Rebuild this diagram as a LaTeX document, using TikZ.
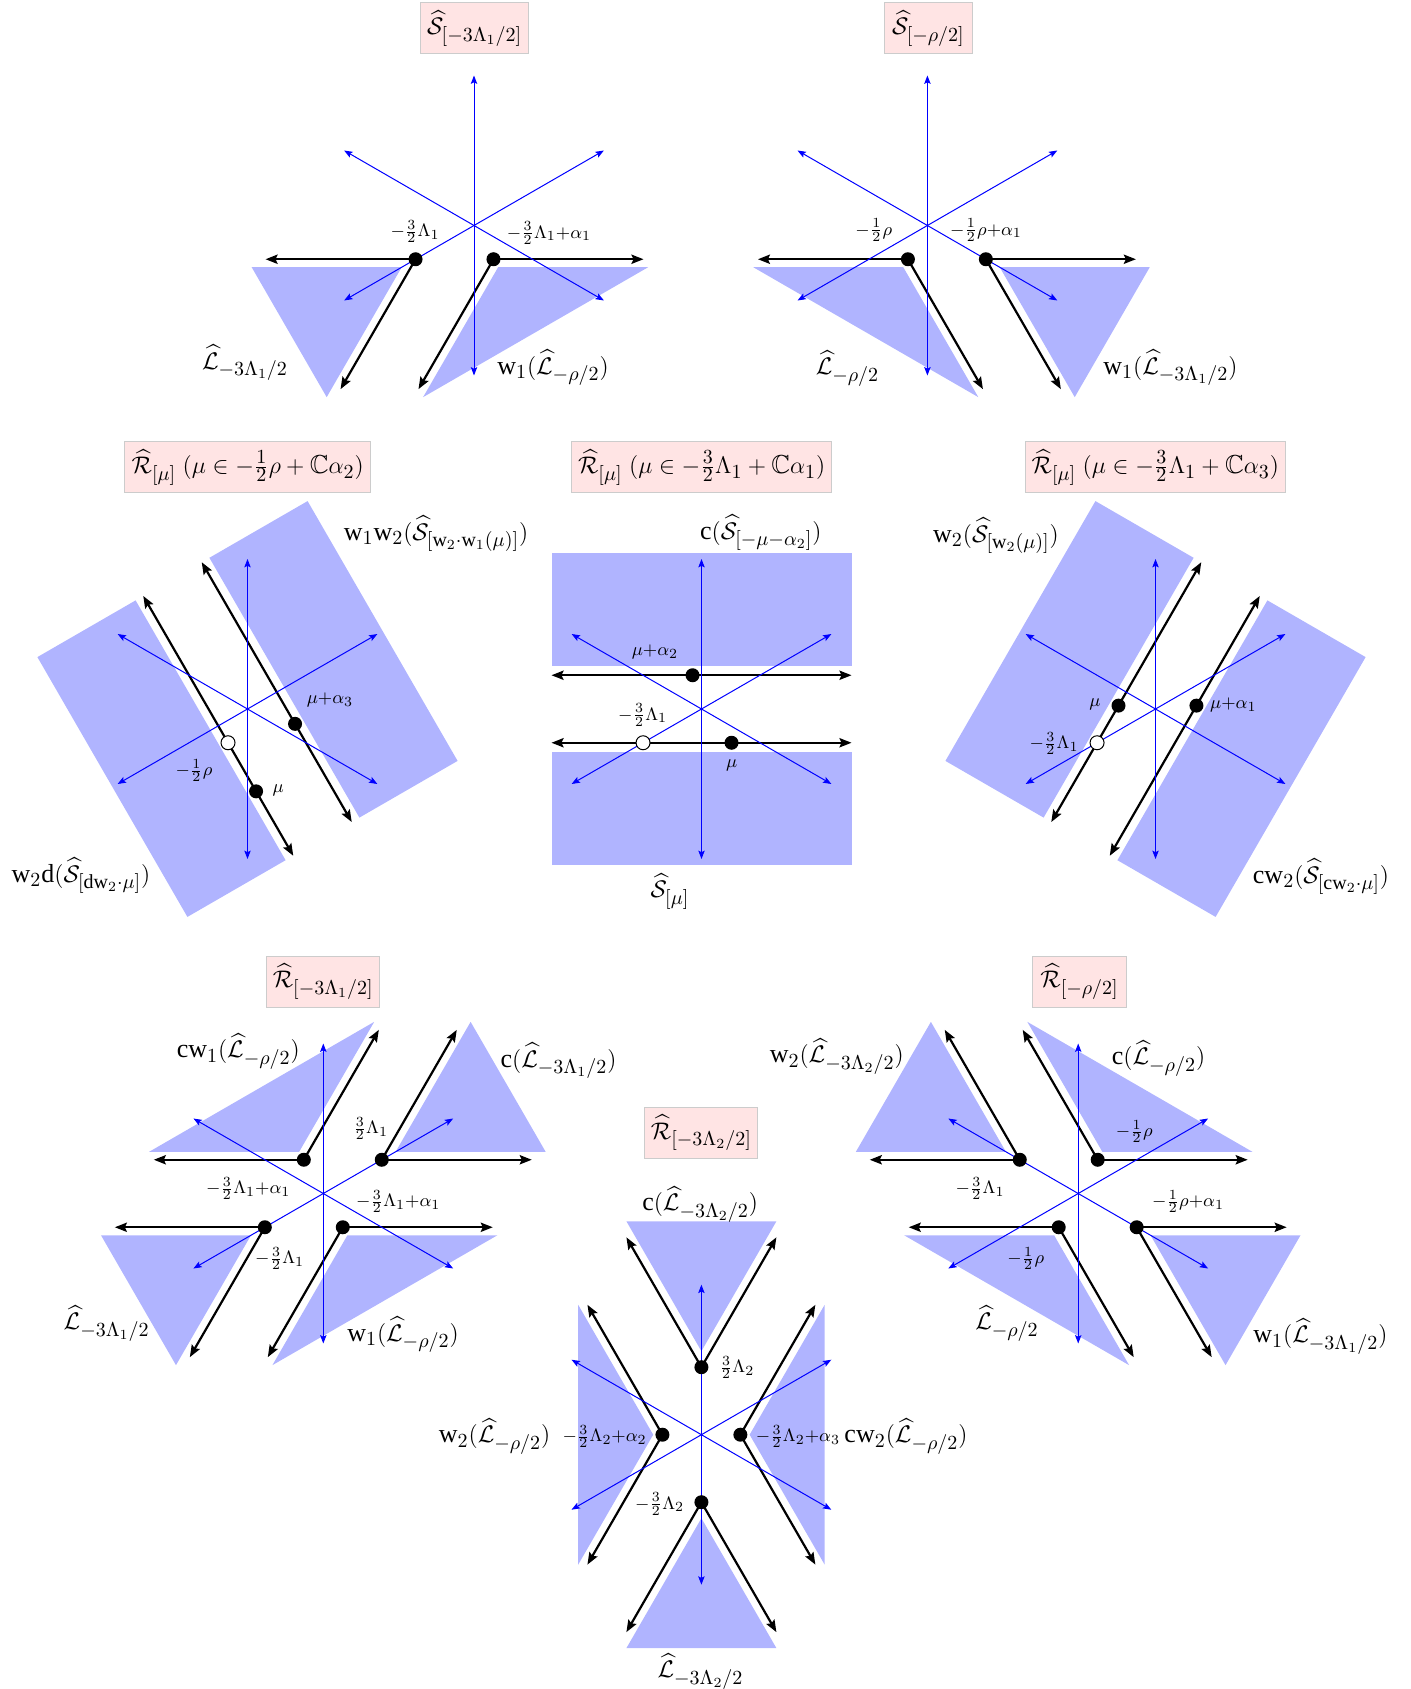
\documentclass[tikz,border=0pt]{standalone}
\usepackage{amsmath,amssymb}
\usepackage{fontspec}
\setmainfont{Liberation Serif}
\DeclareMathSizes{13}{13}{10}{7.5}
\DeclareMathSizes{9}{9}{7}{5}
\usetikzlibrary{arrows.meta,calc}
\definecolor{regc}{RGB}{176,180,255}
\definecolor{boxc}{RGB}{255,228,228}
\definecolor{boxb}{RGB}{204,204,204}
\tikzset{
 reg/.style={fill=regc},
 blk/.style={line width=1.1pt,-{Stealth[length=6pt,width=4.6pt,inset=1pt]}},
 blkb/.style={line width=1.1pt,{Stealth[length=6pt,width=4.6pt,inset=1pt]}-{Stealth[length=6pt,width=4.6pt,inset=1pt]}},
 ax/.style={blue,line width=0.5pt,{Stealth[length=4.2pt,width=3.2pt,inset=0.8pt]}-{Stealth[length=4.2pt,width=3.2pt,inset=0.8pt]}},
 lbl/.style={font=\fontsize{13}{15}\selectfont, inner sep=0pt},
 sm/.style={font=\fontsize{9}{11}\selectfont, inner sep=0pt},
 ttl/.style={font=\fontsize{13}{15}\selectfont, fill=boxc, draw=boxb, line width=0.5pt, minimum height=25.5pt, inner xsep=3pt, inner ysep=0pt},
}
\newcommand\ptri[4]{%
 \pgfmathsetmacro\tbis{(#3+#4)/2}%
 \pgfmathsetmacro\tsh{8/sin((#4-#3)/2)}%
 \fill[reg] ($(#1,#2)+(\tbis:\tsh)$) coordinate (apx) -- ++(#3:150) -- ($(apx)+(#4:150)$) -- cycle;}
\newcommand\parr[3]{\draw[blk] (#1,#2) -- ++(#3:150);}
\newcommand\pdot[2]{\fill (#1,#2) circle[radius=7];}
\newcommand\podot[2]{\filldraw[fill=white,draw=black,line width=0.5pt] (#1,#2) circle[radius=7];}
\newcommand\paxes{\draw[ax] (90:150) -- (270:150); \draw[ax] (30:150) -- (210:150); \draw[ax] (150:150) -- (330:150);}
\newcommand\prect[1]{%
 \begin{scope}[rotate=#1]
 \fill[reg] (-150,42.6) rectangle (150,156);
 \fill[reg] (-150,-42.6) rectangle (150,-156);
 \draw[blkb] (-150,33.75) -- (150,33.75);
 \draw[blkb] (-150,-33.75) -- (150,-33.75);
 \end{scope}}
\begin{document}
\begin{tikzpicture}[x=0.5pt,y=-0.5pt]
\useasboundingbox (0,0) rectangle (1411,1689);
% ---------- panel 1
\begin{scope}[shift={(474,225.5)},x=0.5pt,y=0.5pt]
 \ptri{-58.457}{-33.75}{180}{240}
 \ptri{19.486}{-33.75}{240}{360}
 \parr{-58.457}{-33.75}{180} \parr{-58.457}{-33.75}{240}
 \parr{19.486}{-33.75}{0} \parr{19.486}{-33.75}{240}
 \paxes
 \pdot{-58.457}{-33.75} \pdot{19.486}{-33.75}
\end{scope}
% ---------- panel 2
\begin{scope}[shift={(927.4,225.5)},x=0.5pt,y=0.5pt]
 \ptri{-19.486}{-33.75}{180}{300}
 \ptri{58.457}{-33.75}{300}{360}
 \parr{-19.486}{-33.75}{180} \parr{-19.486}{-33.75}{300}
 \parr{58.457}{-33.75}{0} \parr{58.457}{-33.75}{300}
 \paxes
 \pdot{-19.486}{-33.75} \pdot{58.457}{-33.75}
\end{scope}
% ---------- panel 3
\begin{scope}[shift={(247.5,709)},x=0.5pt,y=0.5pt]
 \prect{120}
 \paxes
 \podot{-19.486}{-33.75}
 \pdot{8.57}{-82.35} \pdot{47.54}{-14.85}
\end{scope}
% ---------- panel 4
\begin{scope}[shift={(701.5,709)},x=0.5pt,y=0.5pt]
 \prect{0}
 \paxes
 \podot{-58.457}{-33.75}
 \pdot{30}{-33.75} \pdot{-8.97}{33.75}
\end{scope}
% ---------- panel 5
\begin{scope}[shift={(1155.5,709)},x=0.5pt,y=0.5pt]
 \prect{60}
 \paxes
 \podot{-58.457}{-33.75}
 \pdot{-37.02}{3.375} \pdot{40.92}{3.375}
\end{scope}
% ---------- panel 6
\begin{scope}[shift={(323.3,1193.5)},x=0.5pt,y=0.5pt]
 \ptri{-58.457}{-33.75}{180}{240}
 \ptri{19.486}{-33.75}{240}{360}
 \ptri{58.457}{33.75}{0}{60}
 \ptri{-19.486}{33.75}{60}{180}
 \parr{-58.457}{-33.75}{180} \parr{-58.457}{-33.75}{240}
 \parr{19.486}{-33.75}{0} \parr{19.486}{-33.75}{240}
 \parr{58.457}{33.75}{0} \parr{58.457}{33.75}{60}
 \parr{-19.486}{33.75}{180} \parr{-19.486}{33.75}{60}
 \paxes
 \pdot{-58.457}{-33.75} \pdot{19.486}{-33.75}
 \pdot{58.457}{33.75} \pdot{-19.486}{33.75}
\end{scope}
% ---------- panel 7
\begin{scope}[shift={(1078.2,1193.5)},x=0.5pt,y=0.5pt]
 \ptri{-19.486}{-33.75}{180}{300}
 \ptri{58.457}{-33.75}{300}{360}
 \ptri{19.486}{33.75}{0}{120}
 \ptri{-58.457}{33.75}{120}{180}
 \parr{-19.486}{-33.75}{180} \parr{-19.486}{-33.75}{300}
 \parr{58.457}{-33.75}{0} \parr{58.457}{-33.75}{300}
 \parr{19.486}{33.75}{0} \parr{19.486}{33.75}{120}
 \parr{-58.457}{33.75}{180} \parr{-58.457}{33.75}{120}
 \paxes
 \pdot{-19.486}{-33.75} \pdot{58.457}{-33.75}
 \pdot{19.486}{33.75} \pdot{-58.457}{33.75}
\end{scope}
% ---------- panel 8
\begin{scope}[shift={(701.4,1434.7)},x=0.5pt,y=0.5pt]
 \ptri{0}{67.5}{60}{120}
 \ptri{0}{-67.5}{240}{300}
 \ptri{-38.971}{0}{120}{240}
 \ptri{38.971}{0}{-60}{60}
 \parr{0}{67.5}{60} \parr{0}{67.5}{120}
 \parr{0}{-67.5}{240} \parr{0}{-67.5}{300}
 \parr{-38.971}{0}{120} \parr{-38.971}{0}{240}
 \parr{38.971}{0}{60} \parr{38.971}{0}{300}
 \paxes
 \pdot{0}{67.5} \pdot{0}{-67.5} \pdot{-38.971}{0} \pdot{38.971}{0}
\end{scope}
% ---------- labels panel 1
\node[ttl, minimum width=54pt] (t1) at (474.7,28.3) {$\widehat{\mathcal S}_{[-3\Lambda_1/2]}$};
\node[sm] (a1) at (415,231.7) {$-\frac{3}{2}\Lambda_1$};
\node[sm] (a2) at (549,233) {$-\frac{3}{2}\Lambda_1{+}\alpha_1$};
\node[lbl] (a3) at (245,363) {$\widehat{\mathcal L}_{-3\Lambda_1/2}$};
\node[lbl] (a4) at (553,368) {$\mathrm{w}_1(\widehat{\mathcal L}_{-\rho/2})$};
% panel 2
\node[ttl, minimum width=44pt] (t2) at (928.5,28.3) {$\widehat{\mathcal S}_{[-\rho/2]}$};
\node[sm] (b1) at (873.8,230) {$-\frac{1}{2}\rho$};
\node[sm] (b2) at (986,230) {$-\frac{1}{2}\rho{+}\alpha_1$};
\node[lbl] (b3) at (847.5,368.3) {$\widehat{\mathcal L}_{-\rho/2}$};
\node[lbl] (b4) at (1170.4,368) {$\mathrm{w}_1(\widehat{\mathcal L}_{-3\Lambda_1/2})$};
% panel 3
\node[ttl, minimum width=123pt] (t3) at (247.7,467.3) {$\widehat{\mathcal R}_{[\mu]}\ (\mu\in-\frac{1}{2}\rho+\mathbb{C}\alpha_2)$};
\node[lbl] (c1) at (436,534) {$\mathrm{w}_1\mathrm{w}_2(\widehat{\mathcal S}_{[\mathrm{w}_2\cdot\mathrm{w}_1(\mu)]})$};
\node[lbl] (c2) at (81,876) {$\mathrm{w}_2\mathrm{d}(\widehat{\mathcal S}_{[\mathrm{dw}_2\cdot\mu]})$};
\node[sm] (c3) at (330,700) {$\mu{+}\alpha_3$};
\node[sm] (c4) at (194,770.7) {$-\frac{1}{2}\rho$};
\node[sm] (c5) at (278.3,790) {$\mu$};
% panel 4
\node[ttl, minimum width=130pt] (t4) at (701.7,467.3) {$\widehat{\mathcal R}_{[\mu]}\ (\mu\in-\frac{3}{2}\Lambda_1+\mathbb{C}\alpha_1)$};
\node[lbl] (d1) at (760.8,533) {$\mathrm{c}(\widehat{\mathcal S}_{[-\mu-\alpha_2]})$};
\node[lbl] (d2) at (670,891.7) {$\widehat{\mathcal S}_{[\mu]}$};
\node[sm] (d3) at (655,651.7) {$\mu{+}\alpha_2$};
\node[sm] (d4) at (642.7,715) {$-\frac{3}{2}\Lambda_1$};
\node[sm] (d5) at (731.7,765) {$\mu$};
% panel 5
\node[ttl, minimum width=130pt] (t5) at (1155.3,467.3) {$\widehat{\mathcal R}_{[\mu]}\ (\mu\in-\frac{3}{2}\Lambda_1+\mathbb{C}\alpha_3)$};
\node[lbl] (e1) at (996,536) {$\mathrm{w}_2(\widehat{\mathcal S}_{[\mathrm{w}_2(\mu)]})$};
\node[lbl] (e2) at (1321,877) {$\mathrm{cw}_2(\widehat{\mathcal S}_{[\mathrm{cw}_2\cdot\mu]})$};
\node[sm] (e3) at (1095,704) {$\mu$};
\node[sm] (e4) at (1233.3,705.3) {$\mu{+}\alpha_1$};
\node[sm] (e5) at (1054,743.3) {$-\frac{3}{2}\Lambda_1$};
% panel 6
\node[ttl, minimum width=56.5pt] (t6) at (323.3,981.7) {$\widehat{\mathcal R}_{[-3\Lambda_1/2]}$};
\node[lbl] (f1) at (238.3,1051.7) {$\mathrm{cw}_1(\widehat{\mathcal L}_{-\rho/2})$};
\node[lbl] (f2) at (558.5,1061) {$\mathrm{c}(\widehat{\mathcal L}_{-3\Lambda_1/2})$};
\node[sm] (f3) at (370.7,1128.3) {$\frac{3}{2}\Lambda_1$};
\node[sm] (f4) at (248.3,1188.3) {$-\frac{3}{2}\Lambda_1{+}\alpha_1$};
\node[sm] (f5) at (398.3,1201.7) {$-\frac{3}{2}\Lambda_1{+}\alpha_1$};
\node[sm] (f6) at (279.7,1258.3) {$-\frac{3}{2}\Lambda_1$};
\node[lbl] (f7) at (106.7,1323.3) {$\widehat{\mathcal L}_{-3\Lambda_1/2}$};
\node[lbl] (f8) at (403,1335) {$\mathrm{w}_1(\widehat{\mathcal L}_{-\rho/2})$};
% panel 7
\node[ttl, minimum width=46.7pt] (t7) at (1079.6,981.7) {$\widehat{\mathcal R}_{[-\rho/2]}$};
\node[lbl] (g1) at (836.8,1056.7) {$\mathrm{w}_2(\widehat{\mathcal L}_{-3\Lambda_2/2})$};
\node[lbl] (g2) at (1158.5,1058.3) {$\mathrm{c}(\widehat{\mathcal L}_{-\rho/2})$};
\node[sm] (g3) at (1134.2,1131.7) {$-\frac{1}{2}\rho$};
\node[sm] (g4) at (980,1188.3) {$-\frac{3}{2}\Lambda_1$};
\node[sm] (g5) at (1188,1201.7) {$-\frac{1}{2}\rho{+}\alpha_1$};
\node[sm] (g6) at (1025.7,1258.3) {$-\frac{1}{2}\rho$};
\node[lbl] (g7) at (1007,1323.3) {$\widehat{\mathcal L}_{-\rho/2}$};
\node[lbl] (g8) at (1320.4,1336.7) {$\mathrm{w}_1(\widehat{\mathcal L}_{-3\Lambda_1/2})$};
% panel 8
\node[ttl, minimum width=56pt] (t8) at (701.4,1133) {$\widehat{\mathcal R}_{[-3\Lambda_2/2]}$};
\node[lbl] (h1) at (700.2,1204.5) {$\mathrm{c}(\widehat{\mathcal L}_{-3\Lambda_2/2})$};
\node[sm] (h2) at (737,1367.7) {$\frac{3}{2}\Lambda_2$};
\node[lbl] (h3) at (494.6,1436.5) {$\mathrm{w}_2(\widehat{\mathcal L}_{-\rho/2})$};
\node[sm] (h4) at (604.6,1436.5) {$-\frac{3}{2}\Lambda_2{+}\alpha_2$};
\node[sm] (h5) at (797.9,1436.5) {$-\frac{3}{2}\Lambda_2{+}\alpha_3$};
\node[lbl] (h6) at (906,1436.5) {$\mathrm{cw}_2(\widehat{\mathcal L}_{-\rho/2})$};
\node[sm] (h7) at (659.6,1504) {$-\frac{3}{2}\Lambda_2$};
\node[lbl] (h8) at (700.5,1671.4) {$\widehat{\mathcal L}_{-3\Lambda_2/2}$};
\end{tikzpicture}
\end{document}
